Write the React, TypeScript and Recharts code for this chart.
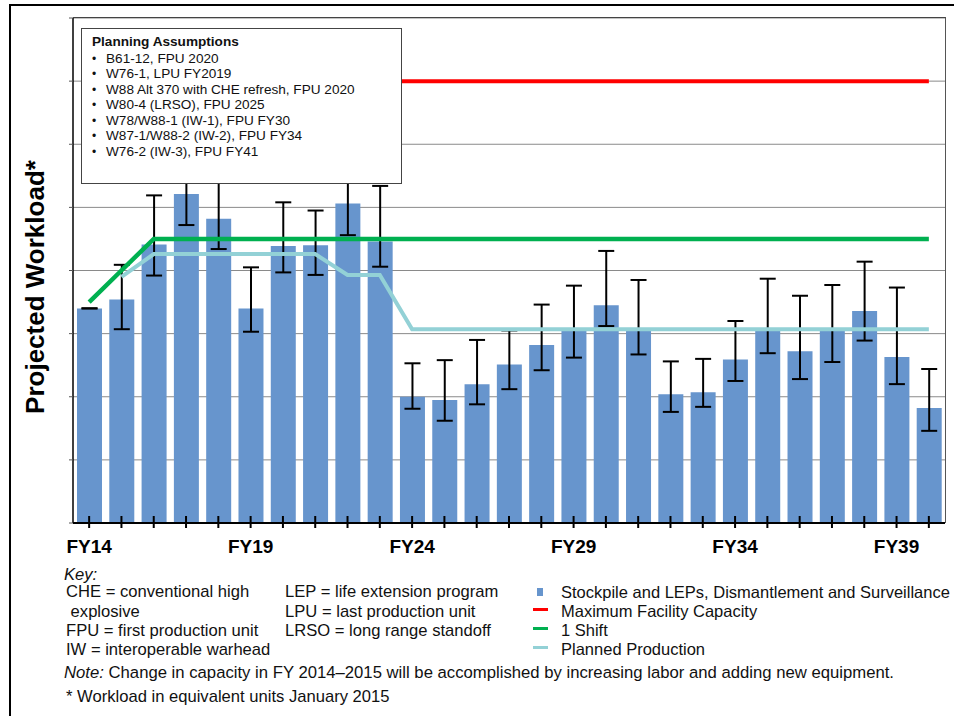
import React from 'react';
import {
  ComposedChart,
  Bar,
  Line,
  XAxis,
  YAxis,
  CartesianGrid,
  ErrorBar,
} from 'recharts';

const categories = [
  'FY14', 'FY15', 'FY16', 'FY17', 'FY18', 'FY19', 'FY20', 'FY21', 'FY22',
  'FY23', 'FY24', 'FY25', 'FY26', 'FY27', 'FY28', 'FY29', 'FY30', 'FY31',
  'FY32', 'FY33', 'FY34', 'FY35', 'FY36', 'FY37', 'FY38', 'FY39', 'FY40',
];
const labeledCategories = ['FY14', 'FY19', 'FY24', 'FY29', 'FY34', 'FY39'];

// Stockpile and LEPs, Dismantlement and Surveillance (bar values)
const workload = [
  3.40, 3.54, 4.41, 5.21, 4.82, 3.40, 4.39, 4.40, 5.06,
  4.46, 2.00, 1.95, 2.20, 2.51, 2.82, 3.06, 3.45, 3.06,
  2.04, 2.07, 2.59, 3.06, 2.72, 3.06, 3.36, 2.63, 1.82,
];
// error bar lower and upper bounds
const workloadLow = [
  3.40, 3.07, 3.92, 4.72, 4.34, 3.03, 3.97, 3.93, 4.56,
  4.06, 1.81, 1.62, 1.88, 2.12, 2.42, 2.62, 3.12, 2.67,
  1.76, 1.84, 2.25, 2.69, 2.28, 2.55, 2.89, 2.20, 1.46,
];
const workloadHigh = [
  3.40, 4.09, 5.19, 5.75, 5.50, 4.05, 5.08, 4.95, 5.60,
  5.34, 2.53, 2.58, 2.90, 3.05, 3.46, 3.76, 4.31, 3.85,
  2.56, 2.60, 3.20, 3.87, 3.60, 3.77, 4.14, 3.73, 2.44,
];
const maxFacilityCapacity = [
  7, 7, 7, 7, 7, 7, 7, 7, 7,
  7, 7, 7, 7, 7, 7, 7, 7, 7,
  7, 7, 7, 7, 7, 7, 7, 7, 7,
];
const oneShift = [
  3.5, 4.0, 4.5, 4.5, 4.5, 4.5, 4.5, 4.5, 4.5,
  4.5, 4.5, 4.5, 4.5, 4.5, 4.5, 4.5, 4.5, 4.5,
  4.5, 4.5, 4.5, 4.5, 4.5, 4.5, 4.5, 4.5, 4.5,
];
const plannedProduction = [
  null, 3.9, 4.26, 4.26, 4.26, 4.26, 4.26, 4.26, 3.93,
  3.93, 3.07, 3.07, 3.07, 3.07, 3.07, 3.07, 3.07, 3.07,
  3.07, 3.07, 3.07, 3.07, 3.07, 3.07, 3.07, 3.07, 3.07,
];
const yTicks = [0, 1, 2, 3, 4, 5, 6, 7, 8];

const planningAssumptions = [
  'B61-12, FPU 2020',
  'W76-1, LPU FY2019',
  'W88 Alt 370 with CHE refresh, FPU 2020',
  'W80-4 (LRSO), FPU 2025',
  'W78/W88-1 (IW-1), FPU FY30',
  'W87-1/W88-2 (IW-2), FPU FY34',
  'W76-2 (IW-3), FPU FY41',
];
const keyLeft = [
  'CHE = conventional high',
  '\u00a0explosive',
  'FPU = first production unit',
  'IW = interoperable warhead',
];
const keyMiddle = [
  'LEP = life extension program',
  'LPU = last production unit',
  'LRSO = long range standoff',
];
const seriesNames = [
  'Stockpile and LEPs, Dismantlement and Surveillance',
  'Maximum Facility Capacity',
  '1 Shift',
  'Planned Production',
];

const BAR_COLOR = '#6795cd';
const RED = '#ff0000';
const GREEN = '#00b050';
const LIGHT = '#93d1d6';
const FONT = '"Liberation Sans", Arial, Helvetica, sans-serif';

const data = categories.map((c, i) => ({
  year: c,
  workload: workload[i],
  err: [workload[i] - workloadLow[i], workloadHigh[i] - workload[i]],
  max: maxFacilityCapacity[i],
  shift: oneShift[i],
  planned: plannedProduction[i],
}));

const XTick = (props: any) => {
  const { x, y, payload } = props;
  const show = labeledCategories.includes(payload.value);
  return (
    <g>
      <line x1={x} x2={x} y1={y - 7} y2={y + 5} stroke="#000" strokeWidth={2} />
      {show && (
        <text
          x={x}
          y={y + 30}
          textAnchor="middle"
          fontWeight="bold"
          fontSize={19}
          fontFamily={FONT}
          fill="#000"
        >
          {payload.value}
        </text>
      )}
    </g>
  );
};

const EmptyTick = () => <g />;

const rowStyle = (top: number, left: number): React.CSSProperties => ({
  position: 'absolute',
  left,
  top: top - 10,
  height: 20,
  lineHeight: '20px',
  fontSize: 16.6,
  whiteSpace: 'nowrap',
  color: '#111',
});

export default function App() {
  const keyRows = [592, 611.5, 631, 649.5];
  const legendRows = [592, 611, 630, 649];
  const legendColors = [BAR_COLOR, RED, GREEN, LIGHT];
  return (
    <div
      style={{
        position: 'absolute',
        left: 0,
        top: 0,
        width: 954,
        height: 716,
        overflow: 'hidden',
        background: '#fff',
        fontFamily: FONT,
      }}
    >
      <div
        style={{
          position: 'absolute',
          left: 9,
          top: 4,
          width: 1000,
          height: 760,
          border: '2px solid #000',
          boxSizing: 'border-box',
        }}
      />
      <div style={{ position: 'absolute', left: 0, top: 0 }}>
        <ComposedChart
          width={954}
          height={580}
          data={data}
          margin={{ top: 18, right: 9, left: 63, bottom: 17 }}
          barCategoryGap="22%"
        >
          <CartesianGrid
            vertical={false}
            stroke="#8a8a8a"
            strokeWidth={1}
          />
          <XAxis
            dataKey="year"
            interval={0}
            height={40}
            tickLine={false}
            tickSize={0}
            tickMargin={0}
            axisLine={{ stroke: '#000', strokeWidth: 2 }}
            tick={<XTick />}
          />
          <YAxis
            width={10}
            domain={[0, 8]}
            ticks={yTicks}
            interval={0}
            tick={<EmptyTick />}
            tickSize={4}
            tickLine={{ stroke: '#555' }}
            axisLine={{ stroke: '#000', strokeWidth: 1.5 }}
          />
          <Bar
            dataKey="workload"
            fill={BAR_COLOR}
            barSize={25}
            isAnimationActive={false}
          >
            <ErrorBar
              dataKey="err"
              direction="y"
              width={8}
              stroke="#000"
              strokeWidth={2}
              isAnimationActive={false}
            />
          </Bar>
          <Line
            dataKey="max"
            stroke={RED}
            strokeWidth={4}
            dot={false}
            isAnimationActive={false}
          />
          <Line
            dataKey="planned"
            stroke={LIGHT}
            strokeWidth={4}
            dot={false}
            isAnimationActive={false}
          />
          <Line
            dataKey="shift"
            stroke={GREEN}
            strokeWidth={4.5}
            dot={false}
            isAnimationActive={false}
          />
        </ComposedChart>
      </div>

      {/* plot frame: top and right edges */}
      <div
        style={{
          position: 'absolute',
          left: 73,
          top: 17,
          width: 873,
          height: 506,
          borderTop: '1.5px solid #444',
          borderRight: '1.5px solid #555',
          boxSizing: 'border-box',
          pointerEvents: 'none',
        }}
      />

      <svg
        width={954}
        height={716}
        style={{ position: 'absolute', left: 0, top: 0, pointerEvents: 'none' }}
      >
        <text
          transform="translate(44,287) rotate(-90)"
          textAnchor="middle"
          fontWeight="bold"
          fontSize={26}
          fontFamily={FONT}
          fill="#000"
        >
          Projected Workload*
        </text>
      </svg>

      {/* Planning assumptions box */}
      <div
        style={{
          position: 'absolute',
          left: 81,
          top: 28,
          width: 321,
          height: 156,
          border: '1.5px solid #444',
          boxSizing: 'border-box',
          background: '#fff',
        }}
      />
      <div
        style={{
          position: 'absolute',
          left: 92,
          top: 33.5,
          fontSize: 13.6,
          fontWeight: 'bold',
          lineHeight: '16px',
          color: '#111',
          whiteSpace: 'nowrap',
        }}
      >
        Planning Assumptions
      </div>
      {planningAssumptions.map((t, i) => (
        <div
          key={t}
          style={{
            position: 'absolute',
            left: 92,
            top: 50.5 + i * 15.57,
            fontSize: 13.6,
            lineHeight: '16px',
            color: '#111',
            whiteSpace: 'nowrap',
          }}
        >
          <span style={{ display: 'inline-block', width: 14, fontSize: 12 }}>•</span>
          {t}
        </div>
      ))}

      {/* Key */}
      <div style={{ ...rowStyle(575, 64), fontStyle: 'italic' }}>Key:</div>
      {keyLeft.map((t, i) => (
        <div key={t} style={rowStyle(keyRows[i], 66)}>
          {t}
        </div>
      ))}
      {keyMiddle.map((t, i) => (
        <div key={t} style={rowStyle(keyRows[i], 285)}>
          {t}
        </div>
      ))}
      {seriesNames.map((t, i) => (
        <div key={t} style={{ ...rowStyle(legendRows[i], 561), fontSize: 16.5 }}>
          {t}
        </div>
      ))}
      {legendColors.map((c, i) =>
        i === 0 ? (
          <div
            key={c}
            style={{
              position: 'absolute',
              left: 537,
              top: legendRows[i] - 4,
              width: 6,
              height: 8,
              background: c,
            }}
          />
        ) : (
          <div
            key={c}
            style={{
              position: 'absolute',
              left: 533,
              top: legendRows[i] - 3.5,
              width: 15,
              height: 3,
              background: c,
            }}
          />
        )
      )}
      <div style={{ ...rowStyle(673, 64), fontSize: 16.7 }}>
        <span style={{ fontStyle: 'italic' }}>Note:</span> Change in capacity in FY
        2014–2015 will be accomplished by increasing labor and adding new equipment.
      </div>
      <div style={rowStyle(697, 66)}>* Workload in equivalent units January 2015</div>
    </div>
  );
}
